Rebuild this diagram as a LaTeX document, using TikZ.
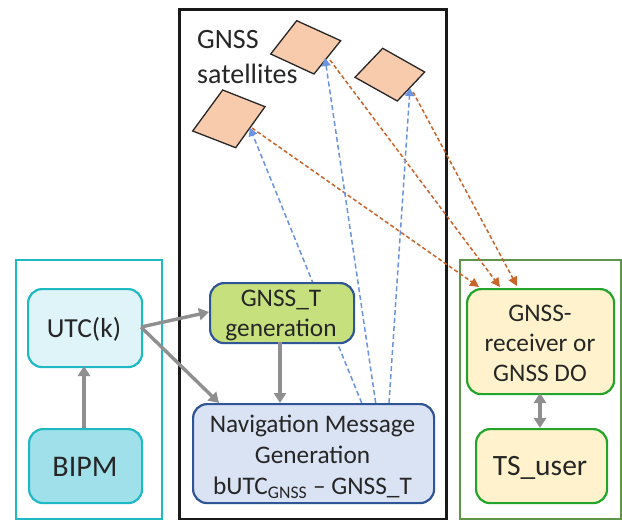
\documentclass[tikz,border=0pt]{standalone}
\usepackage{fontspec}
\setmainfont{Carlito}
\usetikzlibrary{arrows.meta}
\definecolor{cyanline}{HTML}{1FB9C4}
\definecolor{utcfill}{HTML}{DFF4F8}
\definecolor{bipmfill}{HTML}{A0E0EA}
\definecolor{limefill}{HTML}{C6E07E}
\definecolor{navline}{HTML}{2F5597}
\definecolor{navfill}{HTML}{DAE3F3}
\definecolor{recline}{HTML}{22A52A}
\definecolor{recfill}{HTML}{FFF2CC}
\definecolor{outergreen}{HTML}{5F9548}
\definecolor{satfill}{HTML}{F8CBAD}
\definecolor{sigblue}{HTML}{6A94E0}
\definecolor{sigorange}{HTML}{C9652A}
\definecolor{flowgray}{HTML}{8F8F8F}
\tikzset{
  x=1pt,y=-1pt,
  txt/.style={font=\fontsize{25.3}{30}\selectfont,text=black!85,align=center,inner sep=0pt},
  frame/.style={draw=#1,line width=2.4pt,fill=none},
  rbox/.style={rounded corners=14pt,line width=2.2pt,inner sep=0pt},
  flow/.style={draw=flowgray,line width=3.4pt,-{Triangle[length=10pt,width=12pt]}},
  flowboth/.style={draw=flowgray,line width=3.4pt,{Triangle[length=10pt,width=12pt]}-{Triangle[length=10pt,width=12pt]}},
  upsig/.style={draw=sigblue,line width=1.5pt,dash pattern=on 5pt off 3pt,-{Triangle[length=8pt,width=9pt]}},
  downsig/.style={draw=sigorange,line width=1.5pt,dash pattern=on 4pt off 2.5pt,-{Triangle[length=9pt,width=9pt]}},
  sat/.style={draw=black!85,fill=satfill,line width=1.3pt,line join=miter},
}
\newcommand{\mybox}[7]{% name, x0,y0,x1,y1, fill, line
  \node[rbox,draw=#7,fill=#6,minimum width={#4-#2},minimum height={#5-#3},anchor=north west] (#1) at (#2,#3) {};
}
\begin{document}
\begin{tikzpicture}
\useasboundingbox (0,0) rectangle (622,520);
\fill[white] (0,0) rectangle (622,520);

% outer frames
\node[frame=cyanline,minimum width=146pt,minimum height=259pt,anchor=north west,inner sep=0pt] (bipmframe) at (15,259) {};
\node[frame=black!90,line width=2.8pt,minimum width=267pt,minimum height=510pt,anchor=north west,inner sep=0pt] (gnssframe) at (178,8) {};
\node[frame=outergreen,minimum width=161pt,minimum height=259pt,anchor=north west,inner sep=0pt] (userframe) at (459,259) {};

% satellites
\draw[sat] (222.7,90) -- (265,106.7) -- (235.7,147.7) -- (192.7,131) -- cycle;
\draw[sat] (296.7,20.7) -- (340.7,40.7) -- (314,74) -- (270.7,54) -- cycle;
\draw[sat] (382.7,48.3) -- (424.7,72) -- (397.3,101) -- (355,77.3) -- cycle;

\node[txt,align=left,anchor=north west,font=\fontsize{28}{35}\selectfont] (satlabel) at (197,30) {GNSS\\satellites};

% anchors
\coordinate (satAin) at (250,128);
\coordinate (satBin) at (325,58);
\coordinate (satCin) at (410,88);
\coordinate (satAout) at (252,128);
\coordinate (satBout) at (330,60);
\coordinate (satCout) at (413,92);
\coordinate (navA) at (361.7,403);
\coordinate (navB) at (375.7,403);
\coordinate (navC) at (389,403);
\coordinate (recA) at (479,287);
\coordinate (recB) at (500,287);
\coordinate (recC) at (517,286);

% signal lines
\draw[downsig] (satAout) -- (recA);
\draw[downsig] (satBout) -- (recB);
\draw[downsig] (satCout) -- (recC);
\draw[upsig] (navA) -- (satAin);
\draw[upsig] (navB) -- (satBin);
\draw[upsig] (navC) -- (satCin);

% boxes
\mybox{utc}{27}{288}{141}{366}{utcfill}{cyanline}
\mybox{bipm}{28}{428}{141}{502}{bipmfill}{cyanline}
\mybox{gen}{209}{282}{353}{342}{limefill}{navline}
\mybox{nav}{192}{403}{433}{502}{navfill}{navline}
\mybox{rec}{466}{288}{613}{393}{recfill}{recline}
\mybox{tsu}{475}{428}{606}{502}{recfill}{recline}

\node[txt,font=\fontsize{27.5}{30}\selectfont] (utct) at (84,329) {UTC(k)};
\node[txt,font=\fontsize{30}{30}\selectfont] (bipmt) at (85,467) {BIPM};
\node[txt] (gent) at (281,315) {GNSS\_T\\generation};
\node[txt,font=\fontsize{25.3}{31}\selectfont] (navt) at (312.5,457) {Navigation Message\\Generation\\bUTC\textsubscript{GNSS} -- GNSS\_T};
\node[txt] (rect) at (540,343) {GNSS-\\receiver or\\GNSS DO};
\node[txt,font=\fontsize{29.5}{30}\selectfont] (tsut) at (540,468) {TS\_user};

% gray flows
\coordinate (utcout) at (141,327);
\coordinate (genin) at (209,312);
\coordinate (navin) at (219,403);
\coordinate (bipmout) at (84,428);
\coordinate (utcin) at (84,366);
\coordinate (genout) at (280,342);
\coordinate (navtop) at (280,403);
\coordinate (recout) at (540,393);
\coordinate (tsuin) at (540,428);
\draw[flow] (bipmout) -- (utcin);
\draw[flow] (utcout) -- (genin);
\draw[flow] (utcout) -- (navin);
\draw[flow] (genout) -- (navtop);
\draw[flowboth] (recout) -- (tsuin);
\end{tikzpicture}
\end{document}
